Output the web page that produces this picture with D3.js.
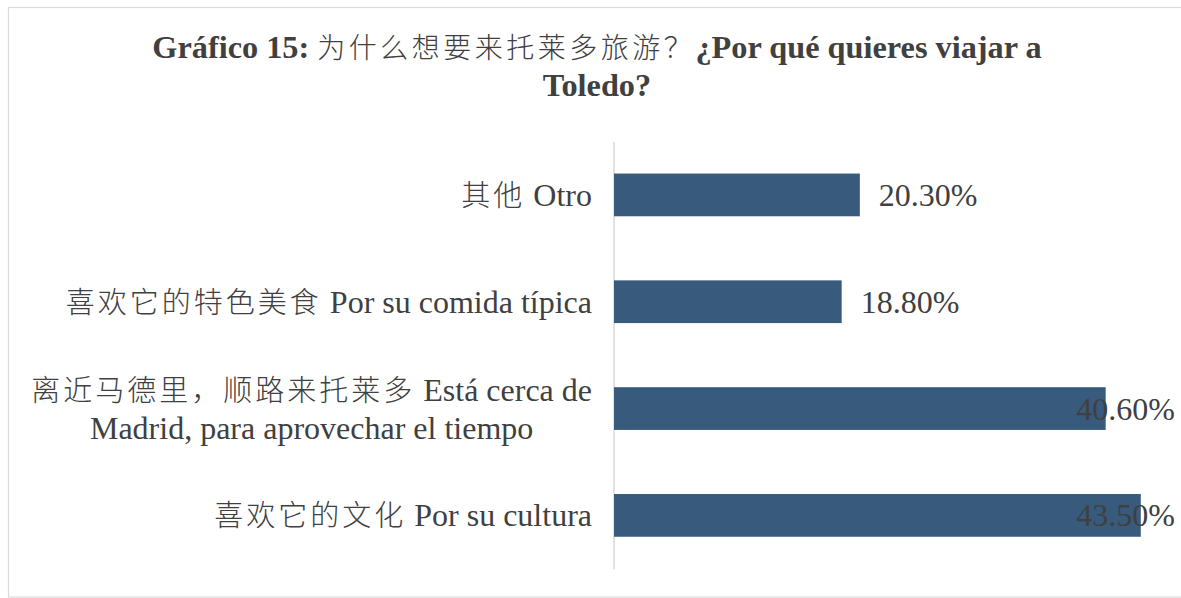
<!DOCTYPE html>
<html>
<head>
<meta charset="utf-8">
<script src="https://cdn.jsdelivr.net/npm/d3@7"></script>
<style>
  body { margin: 0; background: #fff; }
  svg { display: block; }
</style>
</head>
<body>
<div id="chart"></div>
<script>
// data, top to bottom
var categories = [
	"其他 Otro",
	"喜欢它的特色美食 Por su comida típica",
	"离近马德里，顺路来托莱多 Está cerca de\nMadrid, para aprovechar el tiempo",
	"喜欢它的文化 Por su cultura"
];
var values = [20.3, 18.8, 40.6, 43.5];
var titleLines = [
	"Gráfico 15: 为什么想要来托莱多旅游？¿Por qué quieres viajar a",
	"Toledo?"
];

var W = 1181, H = 598;
var latin = "'Liberation Serif', 'Times New Roman', serif";
var cjk = "'Noto Sans CJK SC', sans-serif";
var textColor = "#404040";

var svg = d3.select("#chart")
	.append("svg")
	.attr("width", W)
	.attr("height", H);

svg.append("rect")
	.attr("width", W)
	.attr("height", H)
	.attr("fill", "#fff");

// chart border
svg.append("rect")
	.attr("x", 8.5)
	.attr("y", 7.5)
	.attr("width", 1185)
	.attr("height", 589.5)
	.attr("fill", "none")
	.attr("stroke", "#d9d9d9")
	.attr("stroke-width", 1.2);

// split a string into CJK / latin runs so each gets its own font
function addRuns(textEl, str, latinSize, cjkSize, cjkGap, latinWeight) {
	var re = /([\u3000-\u303f\u4e00-\u9fff\uff00-\uffef]+)|([^\u3000-\u303f\u4e00-\u9fff\uff00-\uffef]+)/g;
	var m;
	while ((m = re.exec(str)) !== null) {
		if (m[1]) {
			textEl.append("tspan")
				.style("font-family", cjk)
				.style("font-size", cjkSize + "px")
				.style("font-weight", 300)
				.style("letter-spacing", cjkGap + "px")
				.text(m[1]);
		} else {
			textEl.append("tspan")
				.style("font-family", latin)
				.style("font-size", latinSize + "px")
				.style("font-weight", latinWeight)
				.text(m[2]);
		}
	}
}

// title
titleLines.forEach(function(line, i) {
	var t = svg.append("text")
		.attr("x", 597)
		.attr("y", 58 + i * 38)
		.attr("text-anchor", "middle")
		.attr("fill", textColor);
	addRuns(t, line, 32.3, 28, 3.5, "bold");
});

// scales
var x = d3.scaleLinear()
	.domain([0, 50])
	.range([614, 614 + 50 * 12.11]);

var y = d3.scaleBand()
	.domain(categories)
	.range([141.5, 568.8])
	.paddingInner(0.6)
	.paddingOuter(0.3);

// vertical axis line, no ticks
var yAxis = svg.append("g")
	.attr("transform", "translate(" + 613.5 + ",0)")
	.call(d3.axisLeft(y).tickSize(0).tickFormat(""));
yAxis.select(".domain")
	.attr("stroke", "#d9d9d9")
	.attr("stroke-width", 1.5);

// category labels
categories.forEach(function(c) {
	var lines = c.split("\n");
	var cy = y(c) + y.bandwidth() / 2;
	var lh = 38;
	var g = svg.append("g");
	var texts = lines.map(function(line, i) {
		var t = g.append("text")
			.attr("y", cy + (i - (lines.length - 1) / 2) * lh + 11)
			.attr("fill", textColor);
		addRuns(t, line, 32, 29, 3, "normal");
		return t;
	});
	if (lines.length === 1) {
		texts[0].attr("x", 592).attr("text-anchor", "end");
	} else {
		var maxW = d3.max(texts, function(t) { return t.node().getComputedTextLength(); });
		texts.forEach(function(t) {
			t.attr("x", 592 - maxW / 2).attr("text-anchor", "middle");
		});
	}
});

// bars
svg.append("g")
	.selectAll("rect")
	.data(values)
	.enter()
	.append("rect")
	.attr("x", x(0))
	.attr("y", function(d, i) { return y(categories[i]); })
	.attr("width", function(d) { return x(d) - x(0); })
	.attr("height", y.bandwidth())
	.attr("fill", "#375a7d");

// value labels, pushed back inside when they'd run off the edge
var maxRight = 1175;
svg.append("g")
	.selectAll("text")
	.data(values)
	.enter()
	.append("text")
	.attr("y", function(d, i) { return y(categories[i]) + y.bandwidth() / 2 + 11; })
	.style("font-family", latin)
	.style("font-size", "32px")
	.attr("fill", textColor)
	.text(function(d) { return d.toFixed(2) + "%"; })
	.attr("x", function(d) {
		var w = this.getComputedTextLength();
		return Math.min(x(d) + 19, maxRight - w);
	});
</script>
</body>
</html>
